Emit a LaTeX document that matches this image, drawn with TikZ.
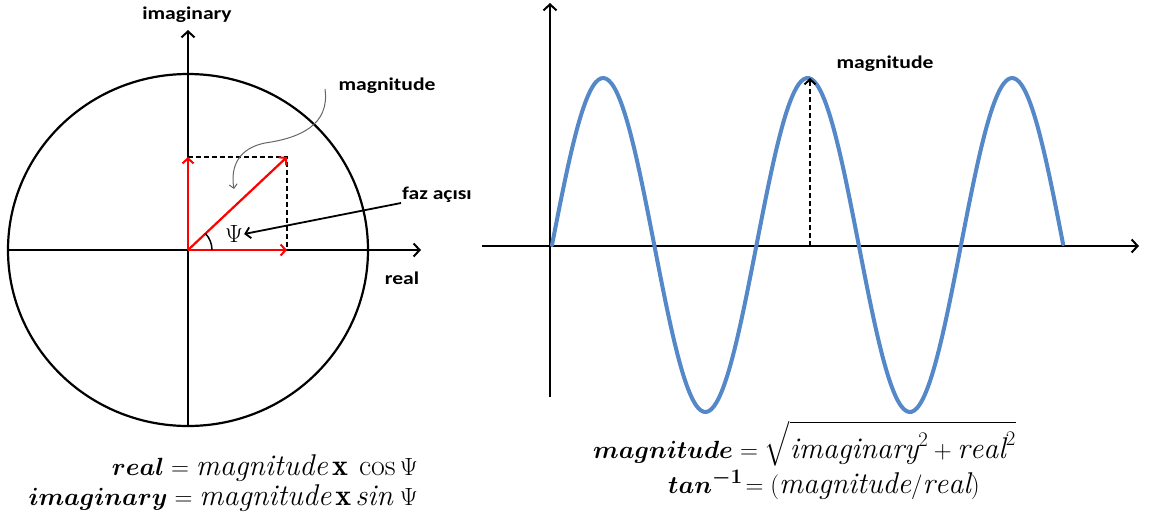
\documentclass[tikz,border=0pt]{standalone}
\usepackage{amsmath}
\usepackage{bm}
\usepackage{fontspec}
\setsansfont{Carlito}
\usetikzlibrary{arrows.meta}

\definecolor{wave}{RGB}{84,136,200}

\begin{document}
\begin{tikzpicture}[
    x=1pt, y=-1pt,
    axis/.style={line width=2pt, -{Straight Barb[length=6pt, width=13pt, line width=2pt]}},
    vec/.style={red, line width=2.2pt, -{Straight Barb[length=5pt, width=11pt, line width=2pt]}},
    guide/.style={line width=1.6pt, dash pattern=on 5pt off 3pt},
    pointer/.style={line width=1.8pt, -{Straight Barb[length=5pt, width=11pt, line width=1.8pt]}},
    lbl/.style={font=\sffamily\bfseries\fontsize{18}{20}\selectfont, inner sep=0pt, xscale=1.2},
    eq/.style={font=\fontsize{30}{34}\selectfont, inner sep=0pt}
]
\useasboundingbox (0,0) rectangle (1149,515);

% phasor diagram
\coordinate (o) at (188,250);
\coordinate (hl) at (8,250);
\coordinate (hr) at (421,250);
\coordinate (vb) at (188,426);
\coordinate (vt) at (188,30);
\coordinate (re) at (287,250);
\coordinate (im) at (188,157);
\coordinate (ph) at (287,157);

\draw[line width=2.2pt] (o) ellipse [x radius=180, y radius=176];
\draw[axis] (hl) -- (hr);
\draw[axis] (vb) -- (vt);
\draw[guide] (im) -- (ph) -- (re);
\draw[vec] (o) -- (re);
\draw[vec] (o) -- (im);
\draw[vec] (o) -- (ph);
\draw[line width=1.5pt] ([xshift=24pt]o) arc (0:-43:24);

\node[lbl] (imlbl) at (187,15) {imaginary};
\node[lbl] (relbl) at (402,278) {real};
\node[lbl] (maglbl) at (387,86) {magnitude};
\node[lbl] (fazlbl) at (437,195) {faz açısı};
\node[font=\fontsize{23}{24}\selectfont, inner sep=1pt] (psi) at (234,234) {$\Psi$};

\coordinate (fz) at (401,203);
\coordinate (mc) at (325,89);
\draw[pointer] (fz) -- (psi.east);
\draw[gray!80!black, line width=1pt, -{Straight Barb[length=4pt, width=8pt]}]
    (mc) .. controls (330,125) and (300,138) .. (265,143)
    .. controls (240,148) and (230,165) .. (234,189);

\node[eq, anchor=base east] (eqre) at (418,475)
    {$\bm{real} = \mathit{magnitude}\,\mathbf{x}\;\cos\Psi$};
\node[eq, anchor=base east] (eqim) at (418,505)
    {$\bm{imaginary} = \mathit{magnitude}\,\mathbf{x}\,\mathit{sin}\;\Psi$};

% sine wave
\coordinate (so) at (550,246);
\coordinate (sl) at (482,246);
\coordinate (sr) at (1139,246);
\coordinate (sb) at (550,397);
\coordinate (st) at (550,3);
\coordinate (pk) at (810,246);
\coordinate (pt) at (810,78);

\draw[axis] (sl) -- (sr);
\draw[axis] (sb) -- (st);
\draw[wave, line width=4pt, line cap=round]
    plot[domain=0:2.5, samples=200, smooth] ({552+204.5*\x}, {245-167*sin(360*\x)});
\draw[guide, line width=2.4pt, -{Straight Barb[length=5pt, width=11pt, line width=2pt]}] (pk) -- (pt);
\node[lbl] (pklbl) at (885,64) {magnitude};

\node[eq, anchor=base west] (eqmag) at (593,458)
    {$\bm{magnitude} = \sqrt{\mathit{imaginary}^{2} + \mathit{real}^{2}\rule{0pt}{1.05em}}$};
\node[eq, anchor=base west] (eqtan) at (668,493)
    {$\bm{tan}^{\bm{-1}}\!= (\mathit{magnitude}/\mathit{real})$};
\end{tikzpicture}
\end{document}
